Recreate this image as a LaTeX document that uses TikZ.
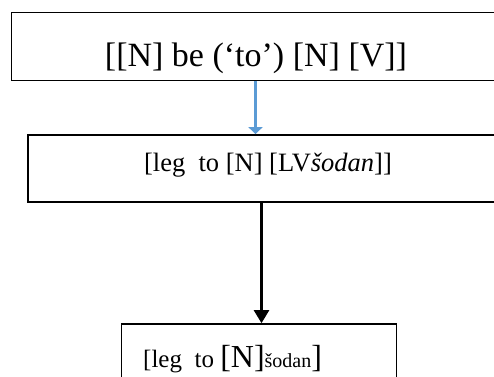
\documentclass[tikz,border=0pt]{standalone}
\usepackage{fontspec}
\setmainfont{Liberation Serif}
\usetikzlibrary{arrows.meta}
\definecolor{arrowblue}{RGB}{91,155,213}
\tikzset{
  boxstyle/.style={draw=black, rectangle, inner sep=0pt},
  txt/.style={inner sep=0pt, text=black},
  bluearrow/.style={draw=arrowblue, -{Triangle[width=14pt,length=7pt]}},
  blackarrow/.style={draw=black, -{Triangle[width=15pt,length=13pt]}}
}
\begin{document}
\begin{tikzpicture}[x=1pt,y=-1pt]
\useasboundingbox (0,0) rectangle (494,376);
\clip (0,0) rectangle (494,376);
\fill[white] (0,0) rectangle (494,376);
% boxes
\node[boxstyle, line width=1pt, minimum width=489pt, minimum height=68pt] (top) at (255.5,46) {};
\node[boxstyle, line width=1.8pt, minimum width=482pt, minimum height=67pt] (mid) at (269,168.5) {};
\node[boxstyle, line width=1.6pt, minimum width=275pt, minimum height=76pt] (bot) at (259,362) {};
% texts
\node[txt, anchor=base, font=\fontsize{34}{40}\selectfont] (toptext) at (256,66) {[[N] be (‘to’) [N] [V]]};
\node[txt, anchor=base, font=\fontsize{26.5}{32}\selectfont] (midtext) at (268,171) {[leg\ \ to [N] [LV\textit{šodan}]]};
\node[txt, anchor=base west] (bottext) at (143,367) {{\fontsize{25}{30}\selectfont [leg\ \ to }{\fontsize{32}{38}\selectfont[N]}{\fontsize{20}{24}\selectfont šodan}{\fontsize{32}{38}\selectfont]}};
% connectors
\draw[bluearrow, line width=2.2pt] (top.south) -- (top.south |- mid.north);
\draw[blackarrow, line width=2.2pt] ([xshift=2.5pt]bot.north |- mid.south) -- ([xshift=2.5pt]bot.north);
\end{tikzpicture}
\end{document}
